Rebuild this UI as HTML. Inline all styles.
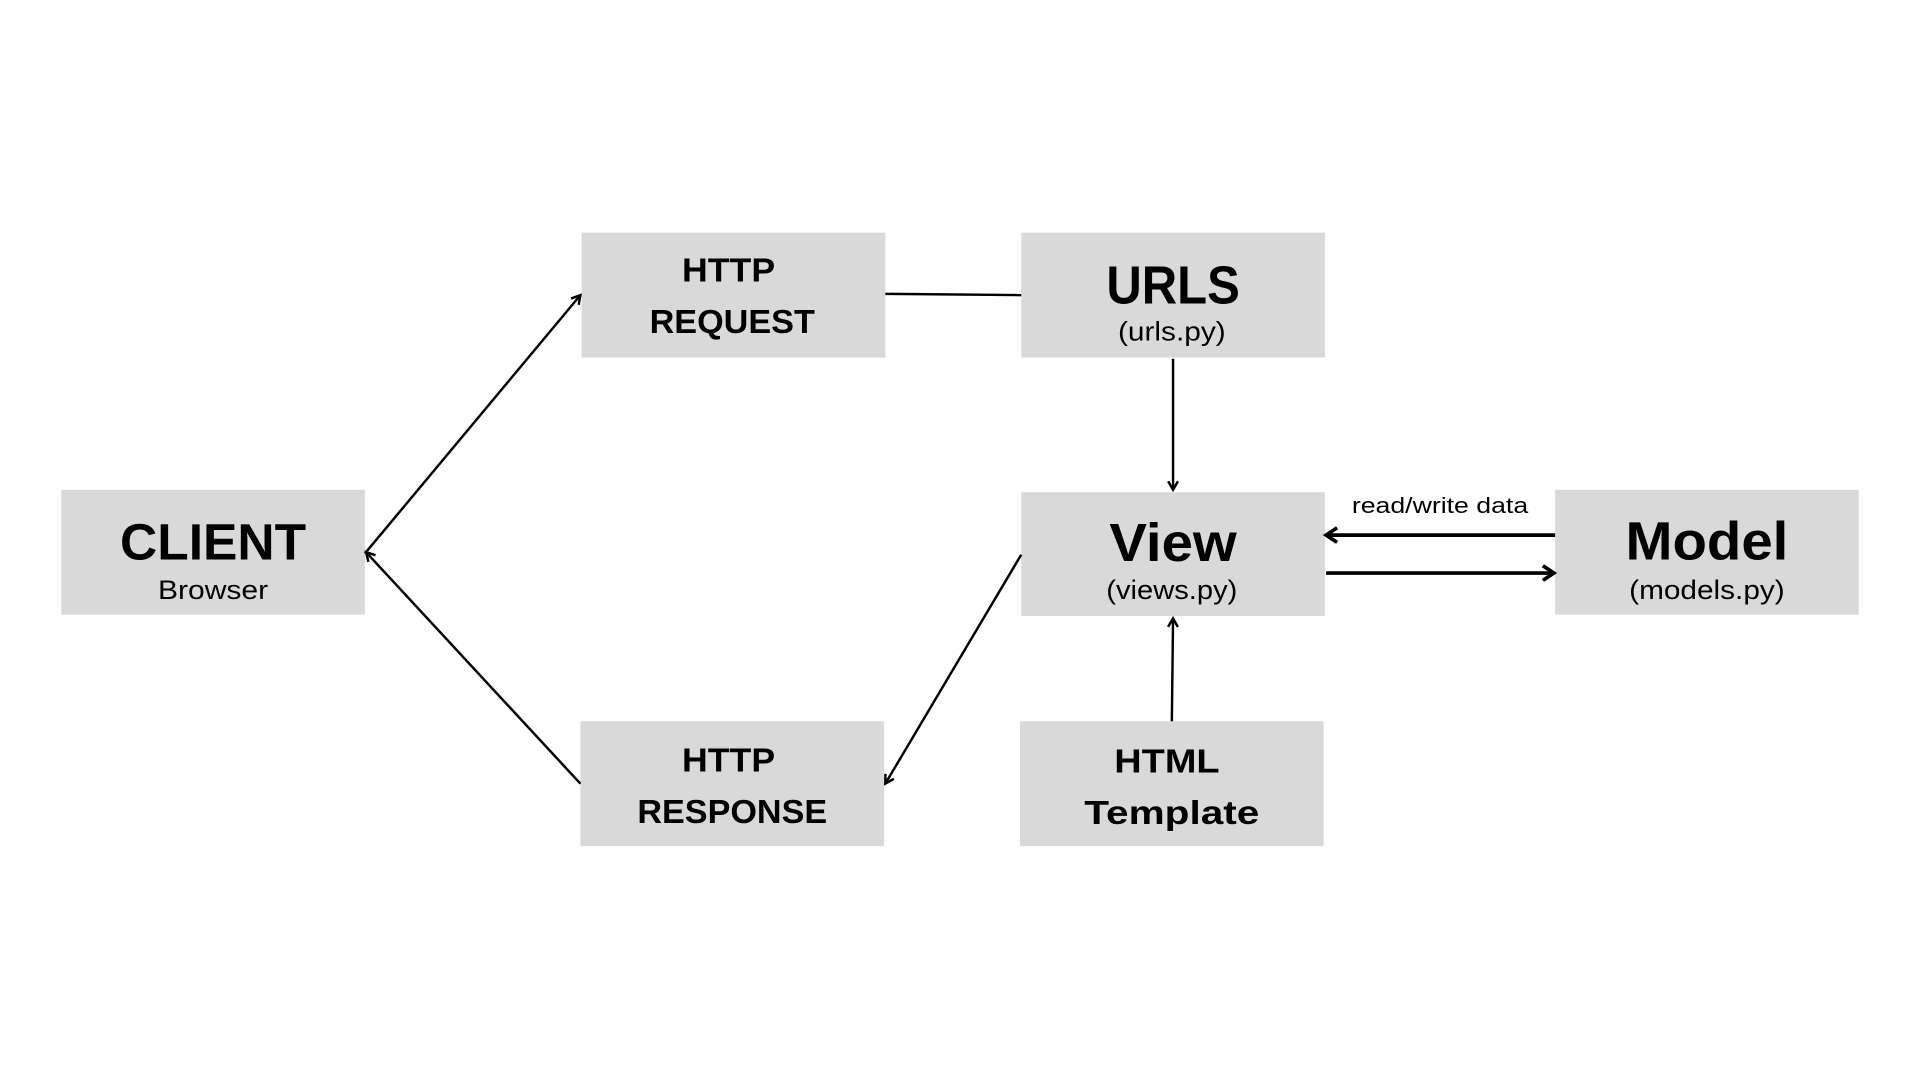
<!DOCTYPE html>
<html><head><style>html,body{margin:0;padding:0;background:#fff;}svg{display:block}</style></head>
<body>
<svg width="1920" height="1080" viewBox="0 0 1568 882" xmlns="http://www.w3.org/2000/svg" font-family="Liberation Sans, sans-serif">
<defs>
<marker id="a" markerWidth="10" markerHeight="10" refX="8" refY="5" orient="auto" markerUnits="userSpaceOnUse"><path d="M1,1 L8,5 L1,9" fill="none" stroke="#000" stroke-width="2"/></marker>
<marker id="b" markerWidth="14" markerHeight="14" refX="11" refY="7" orient="auto" markerUnits="userSpaceOnUse"><path d="M2,1 L11,7 L2,13" fill="none" stroke="#000" stroke-width="3"/></marker>
</defs>
<rect width="1568" height="882" fill="#fff"/>
<g fill="#d9d9d9">
<rect x="50" y="400" width="248" height="102"/>
<rect x="475" y="190" width="248" height="102"/>
<rect x="834" y="190" width="248" height="102"/>
<rect x="834" y="402" width="248" height="101"/>
<rect x="1270" y="400" width="248" height="102"/>
<rect x="474" y="589" width="248" height="102"/>
<rect x="833" y="589" width="248" height="102"/>
</g>
<g fill="#000" text-anchor="middle" lengthAdjust="spacingAndGlyphs">
<text x="174" y="457" font-size="42" font-weight="bold" textLength="152" lengthAdjust="spacingAndGlyphs">CLIENT</text>
<text x="174" y="489" font-size="22" textLength="90" lengthAdjust="spacingAndGlyphs">Browser</text>
<text x="595" y="230" font-size="27" font-weight="bold" textLength="76" lengthAdjust="spacingAndGlyphs">HTTP</text>
<text x="598" y="272" font-size="27" font-weight="bold" textLength="135" lengthAdjust="spacingAndGlyphs">REQUEST</text>
<text x="958" y="248" font-size="44" font-weight="bold" textLength="109" lengthAdjust="spacingAndGlyphs">URLS</text>
<text x="957" y="278" font-size="22" textLength="88" lengthAdjust="spacingAndGlyphs">(urls.py)</text>
<text x="958" y="458" font-size="44" font-weight="bold" textLength="104" lengthAdjust="spacingAndGlyphs">View</text>
<text x="957" y="489" font-size="22" textLength="107" lengthAdjust="spacingAndGlyphs">(views.py)</text>
<text x="1394" y="457" font-size="44" font-weight="bold" textLength="133" lengthAdjust="spacingAndGlyphs">Model</text>
<text x="1394" y="489" font-size="22" textLength="127" lengthAdjust="spacingAndGlyphs">(models.py)</text>
<text x="595" y="630" font-size="27" font-weight="bold" textLength="76" lengthAdjust="spacingAndGlyphs">HTTP</text>
<text x="598" y="672" font-size="27" font-weight="bold" textLength="155" lengthAdjust="spacingAndGlyphs">RESPONSE</text>
<text x="953" y="631" font-size="27" font-weight="bold" textLength="86" lengthAdjust="spacingAndGlyphs">HTML</text>
<text x="957" y="673" font-size="27" font-weight="bold" textLength="143" lengthAdjust="spacingAndGlyphs">Template</text>
<text x="1176" y="419" font-size="18" textLength="144" lengthAdjust="spacingAndGlyphs">read/write data</text>
</g>
<g stroke="#000" fill="none" stroke-width="2">
<line x1="298" y1="452" x2="474" y2="241" marker-end="url(#a)"/>
<line x1="474" y1="640" x2="299" y2="451" marker-end="url(#a)"/>
<line x1="723" y1="240" x2="834" y2="241"/>
<line x1="958" y1="293" x2="958" y2="400" marker-end="url(#a)"/>
<line x1="834" y1="453" x2="723" y2="640" marker-end="url(#a)"/>
<line x1="957" y1="589" x2="958" y2="505" marker-end="url(#a)"/>
<line x1="1270" y1="437" x2="1083" y2="437" stroke-width="3" marker-end="url(#b)"/>
<line x1="1083" y1="468" x2="1269" y2="468" stroke-width="3" marker-end="url(#b)"/>
</g>
</svg>
</body></html>
